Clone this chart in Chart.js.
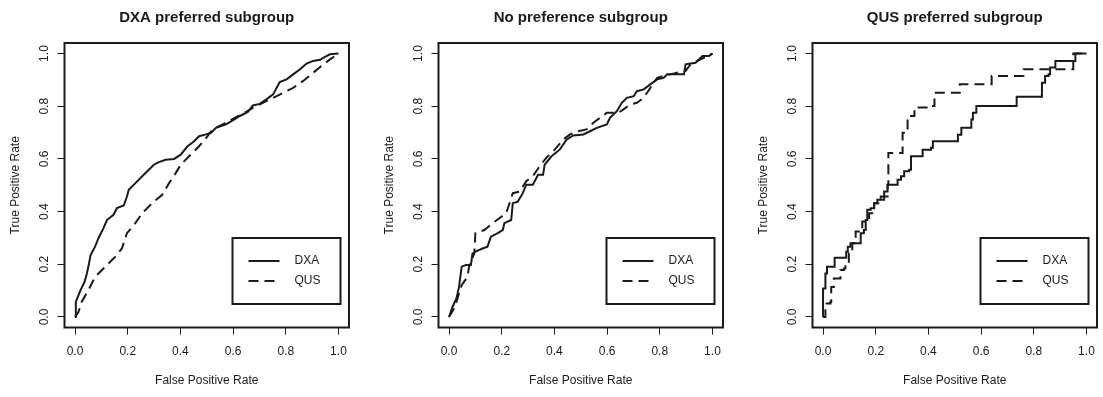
<!DOCTYPE html>
<html>
<head>
<meta charset="utf-8">
<script src="https://cdn.jsdelivr.net/npm/chart.js@4.4.1/dist/chart.umd.min.js"></script>
<style>
    body { margin: 0; background: #fff; overflow: hidden; }
    #wrap { position: relative; width: 1103px; height: 397px; overflow: hidden; }
    canvas { position: absolute; top: 0; }
</style>
</head>
<body>
<div id="wrap">
    <canvas id="panel0" width="374" height="397" style="left:0px"></canvas>
    <canvas id="panel1" width="374" height="397" style="left:374px"></canvas>
    <canvas id="panel2" width="374" height="397" style="left:748px"></canvas>
</div>
<script>
const panelTitles = ['DXA preferred subgroup', 'No preference subgroup', 'QUS preferred subgroup'];
const seriesNames = ['DXA', 'QUS'];
const tickValues = [0, 0.2, 0.4, 0.6, 0.8, 1.0];
const tickLabels = ['0.0', '0.2', '0.4', '0.6', '0.8', '1.0'];
const xTitle = 'False Positive Rate';
const yTitle = 'True Positive Rate';

// [false positive rate, true positive rate]
const dxaPrefDxa = [[0,0],[0.003,0.057],[0.02,0.100],[0.036,0.133],[0.045,0.165],[0.053,0.203],[0.059,0.235],
    [0.076,0.267],[0.089,0.299],[0.108,0.337],[0.121,0.368],[0.146,0.388],[0.159,0.413],[0.185,0.423],
    [0.197,0.457],[0.204,0.483],[0.229,0.508],[0.255,0.534],[0.280,0.559],[0.299,0.578],[0.318,0.588],
    [0.344,0.597],[0.376,0.600],[0.401,0.616],[0.427,0.648],[0.452,0.667],[0.471,0.686],[0.497,0.693],
    [0.516,0.699],[0.535,0.718],[0.573,0.731],[0.605,0.750],[0.624,0.762],[0.656,0.778],[0.675,0.803],
    [0.701,0.809],[0.726,0.826],[0.752,0.845],[0.777,0.892],[0.803,0.902],[0.828,0.921],[0.854,0.940],
    [0.879,0.962],[0.904,0.972],[0.930,0.976],[0.949,0.987],[0.968,0.997],[1,1]];
const dxaPrefQus = [[0,0],[0.013,0.019],[0.025,0.057],[0.051,0.102],[0.076,0.152],[0.115,0.191],[0.153,0.229],
    [0.178,0.260],[0.197,0.318],[0.229,0.356],[0.255,0.394],[0.293,0.432],[0.331,0.464],[0.357,0.508],
    [0.382,0.546],[0.401,0.578],[0.433,0.610],[0.471,0.648],[0.503,0.686],[0.522,0.712],[0.561,0.731],
    [0.599,0.752],[0.637,0.771],[0.675,0.794],[0.713,0.813],[0.752,0.832],[0.790,0.851],[0.828,0.870],
    [0.866,0.896],[0.904,0.927],[0.943,0.959],[0.968,0.978],[1,1]];

const noPrefDxa = [[0,0],[0.013,0.038],[0.028,0.070],[0.038,0.114],[0.048,0.191],[0.064,0.197],[0.083,0.197],
    [0.089,0.241],[0.100,0.248],[0.127,0.260],[0.146,0.267],[0.159,0.305],[0.185,0.318],[0.204,0.330],
    [0.210,0.356],[0.236,0.368],[0.242,0.432],[0.261,0.438],[0.280,0.470],[0.293,0.502],[0.318,0.502],
    [0.338,0.540],[0.357,0.540],[0.363,0.578],[0.389,0.610],[0.420,0.635],[0.446,0.673],[0.471,0.689],
    [0.510,0.693],[0.535,0.705],[0.561,0.718],[0.599,0.731],[0.611,0.756],[0.637,0.781],[0.656,0.813],
    [0.675,0.832],[0.701,0.838],[0.713,0.857],[0.739,0.864],[0.764,0.883],[0.790,0.902],[0.815,0.908],
    [0.828,0.921],[0.892,0.921],[0.898,0.959],[0.936,0.965],[0.962,0.991],[0.987,0.991],[1,1]];
const noPrefQus = [[0,0],[0.019,0.032],[0.028,0.057],[0.038,0.089],[0.048,0.121],[0.070,0.152],[0.076,0.191],
    [0.083,0.210],[0.096,0.241],[0.100,0.318],[0.134,0.330],[0.166,0.356],[0.191,0.375],[0.217,0.394],
    [0.242,0.470],[0.268,0.476],[0.293,0.515],[0.318,0.534],[0.344,0.572],[0.369,0.604],[0.401,0.635],
    [0.433,0.673],[0.459,0.693],[0.490,0.705],[0.522,0.712],[0.548,0.737],[0.573,0.756],[0.599,0.775],
    [0.643,0.775],[0.662,0.788],[0.688,0.807],[0.713,0.813],[0.739,0.832],[0.790,0.908],[0.815,0.915],
    [0.866,0.927],[0.898,0.934],[0.917,0.959],[0.955,0.978],[1,1]];

const qusPrefDxa = [[0,0],[0,0.108],[0.009,0.108],[0.009,0.165],[0.015,0.165],[0.015,0.191],[0.044,0.191],
    [0.044,0.225],[0.082,0.225],[0.088,0.248],[0.094,0.267],[0.104,0.280],[0.136,0.280],[0.143,0.318],
    [0.155,0.330],[0.162,0.368],[0.168,0.407],[0.181,0.413],[0.194,0.432],[0.206,0.445],[0.225,0.445],
    [0.232,0.476],[0.245,0.502],[0.270,0.502],[0.283,0.521],[0.296,0.534],[0.308,0.553],[0.327,0.559],
    [0.334,0.610],[0.372,0.610],[0.378,0.635],[0.410,0.642],[0.417,0.667],[0.499,0.667],[0.512,0.692],
    [0.525,0.718],[0.550,0.718],[0.563,0.750],[0.569,0.775],[0.582,0.801],[0.729,0.801],[0.735,0.836],
    [0.824,0.836],[0.831,0.889],[0.843,0.915],[0.856,0.921],[0.862,0.947],[0.882,0.972],[0.958,0.972],
    [0.958,1.0],[1,1]];
const qusPrefQus = [[0,0],[0.009,0.051],[0.028,0.057],[0.031,0.114],[0.041,0.146],[0.066,0.178],[0.079,0.184],
    [0.085,0.203],[0.098,0.241],[0.111,0.280],[0.124,0.324],[0.143,0.330],[0.149,0.362],[0.175,0.394],
    [0.194,0.432],[0.219,0.457],[0.245,0.502],[0.248,0.622],[0.296,0.622],[0.302,0.699],[0.321,0.763],
    [0.347,0.795],[0.410,0.801],[0.423,0.851],[0.506,0.851],[0.519,0.883],[0.633,0.883],[0.640,0.915],
    [0.754,0.915],[0.761,0.940],[0.935,0.940],[0.950,1.0],[1,1]];

const panelCurves = [[dxaPrefDxa, dxaPrefQus], [noPrefDxa, noPrefQus], [qusPrefDxa, qusPrefQus]];
const panelStepped = [false, false, 'before'];

const FONT = "'Liberation Sans', Arial, Helvetica, sans-serif";
const INK = '#1a1a1a';
const DASH = [10, 6];

// box round the plot region, like R's box()
const plotFrame = {
    id: 'plotFrame',
    afterDatasetsDraw(chart) {
        const {ctx, chartArea: a} = chart;
        ctx.save();
        ctx.strokeStyle = INK;
        ctx.lineWidth = 2;
        ctx.strokeRect(a.left, a.top, a.right - a.left, a.bottom - a.top);
        ctx.restore();
    },
};

// framed legend inside the bottom right corner
const boxLegend = {
    id: 'boxLegend',
    afterDraw(chart) {
        const {ctx, chartArea: a} = chart;
        const w = 108, h = 66;
        const left = a.right - 8.5 - w;
        const top = a.bottom - 23.5 - h;
        ctx.save();
        ctx.fillStyle = '#fff';
        ctx.fillRect(left, top, w, h);
        ctx.strokeStyle = INK;
        ctx.lineWidth = 2;
        ctx.strokeRect(left, top, w, h);
        chart.data.datasets.forEach((ds, i) => {
            const y = top + 23 + i * 20;
            ctx.setLineDash(ds.borderDash || []);
            ctx.lineWidth = ds.borderWidth;
            ctx.beginPath();
            ctx.moveTo(left + 16, y);
            ctx.lineTo(left + 47, y);
            ctx.stroke();
            ctx.setLineDash([]);
            ctx.fillStyle = INK;
            ctx.font = '12px ' + FONT;
            ctx.textBaseline = 'middle';
            ctx.fillText(ds.label, left + 62, y);
        });
        ctx.restore();
    },
};

function axisOptions(isX) {
    return {
        type: 'linear',
        position: isX ? 'bottom' : 'left',
        min: -0.04,
        max: 1.04,
        afterBuildTicks: (s) => { s.ticks = tickValues.map(v => ({value: v})); },
        afterFit: (s) => { if (isX) s.height = 69.5; else s.width = 64.5; },
        border: {display: false},
        grid: {drawOnChartArea: false, drawTicks: true, tickLength: 7, color: INK, lineWidth: 1},
        ticks: {
            callback: (v, i) => tickLabels[i],
            font: {family: FONT, size: 12},
            color: INK,
            padding: isX ? 9.6 : 4,
            minRotation: isX ? 0 : 90,
            maxRotation: isX ? 0 : 90,
            crossAlign: isX ? 'near' : 'center',
            autoSkip: false,
        },
        title: {
            display: true,
            text: isX ? xTitle : yTitle,
            font: {family: FONT, size: 12},
            color: INK,
            padding: isX ? {top: 0, bottom: 9.5} : {top: 8.8, bottom: 0},
        },
    };
}

function makePanel(i) {
    const ctx = document.getElementById('panel' + i).getContext('2d');
    const datasets = panelCurves[i].map((pts, k) => ({
        label: seriesNames[k],
        data: pts.map(p => ({x: p[0], y: p[1]})),
        borderColor: INK,
        borderWidth: 2,
        borderDash: k === 1 ? DASH : [],
        pointRadius: 0,
        tension: 0,
        stepped: panelStepped[i],
        fill: false,
    }));
    return new Chart(ctx, {
        type: 'line',
        data: {datasets: datasets},
        options: {
            responsive: false,
            animation: false,
            layout: {padding: {left: 0, right: 25, top: 0, bottom: 0}},
            scales: {x: axisOptions(true), y: axisOptions(false)},
            plugins: {
                legend: {display: false},
                tooltip: {enabled: false},
                title: {
                    display: true,
                    text: panelTitles[i],
                    fullSize: false,
                    color: INK,
                    font: {family: FONT, size: 15, weight: 'bold'},
                    padding: {top: 8.4, bottom: 16.6},
                },
            },
        },
        plugins: [plotFrame, boxLegend],
    });
}

const charts = [0, 1, 2].map(makePanel);
</script>
</body>
</html>
